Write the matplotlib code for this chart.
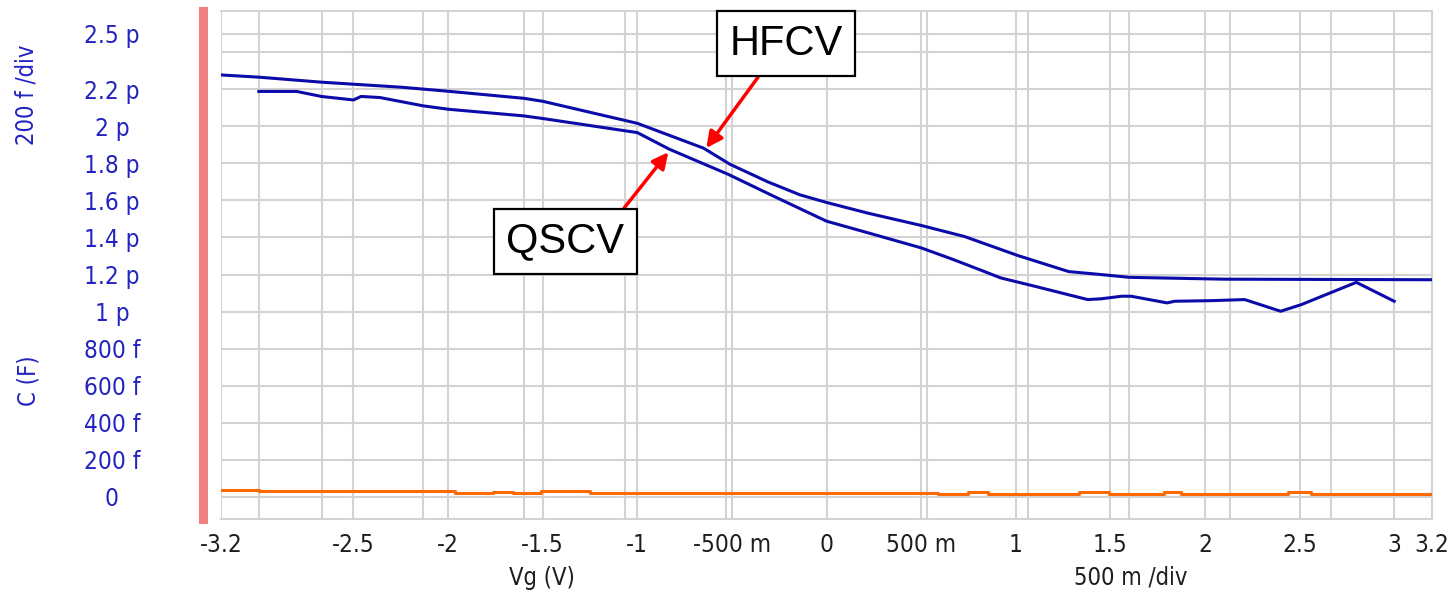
import matplotlib
matplotlib.use("Agg")
import matplotlib.pyplot as plt
from matplotlib import font_manager as fm
from matplotlib.ticker import FixedLocator

# ---- data -------------------------------------------------------------
# High-frequency C-V sweep: gate voltage (V) and capacitance (pF)
hfcv_v = [-3.2, -3.0, -2.67, -2.5, -2.25, -2.0, -1.6, -1.5, -1.0, -0.65, -0.51,
          -0.31, -0.14, 0.0, 0.22, 0.5, 0.73, 1.01, 1.28, 1.45, 1.6, 2.1, 3.2]
hfcv_c = [2.277, 2.265, 2.238, 2.227, 2.211, 2.189, 2.151, 2.135, 2.016, 1.882, 1.795,
          1.70, 1.63, 1.589, 1.531, 1.465, 1.405, 1.303, 1.216, 1.20, 1.185, 1.175, 1.172]

# Quasi-static C-V sweep: gate voltage (V) and capacitance (pF)
qscv_v = [-3.0, -2.8, -2.67, -2.5, -2.46, -2.36, -2.13, -2.0, -1.6, -1.5, -1.06, -1.0,
          -0.83, -0.52, -0.28, 0.0, 0.22, 0.5, 0.67, 0.83, 0.92, 1.10, 1.31, 1.38, 1.45,
          1.56, 1.61, 1.80, 1.84, 2.03, 2.21, 2.40, 2.51, 2.80, 3.0]
qscv_c = [2.188, 2.188, 2.161, 2.142, 2.161, 2.155, 2.110, 2.092, 2.056, 2.042, 1.975, 1.966,
          1.876, 1.741, 1.623, 1.488, 1.425, 1.344, 1.281, 1.218, 1.182, 1.137, 1.083, 1.065, 1.069,
          1.083, 1.083, 1.047, 1.056, 1.059, 1.065, 1.002, 1.038, 1.158, 1.056]

# Stepped trace near zero: gate voltage (V) and value (fF)
low_v = [-3.2, -3.0, -1.963, -1.762, -1.656, -1.508, -1.249, 0.587, 0.746, 0.852,
         1.333, 1.492, 1.783, 1.873, 2.439, 2.561, 3.2]
low_f = [39, 30, 19, 28, 19, 30, 21, 17, 25, 16, 25, 16, 25, 16, 25, 16, 16]

x_ticks = [-3.2, -2.5, -2.0, -1.5, -1.0, -0.5, 0.0, 0.5, 1.0, 1.5, 2.0, 2.5, 3.0, 3.2]
x_tick_labels = ["-3.2", "-2.5", "-2", "-1.5", "-1", "-500 m", "0", "500 m",
                 "1", "1.5", "2", "2.5", "3", "3.2"]
y_ticks = [0.0, 0.2, 0.4, 0.6, 0.8, 1.0, 1.2, 1.4, 1.6, 1.8, 2.0, 2.2, 2.5]
y_tick_labels = ["0", "200 f", "400 f", "600 f", "800 f", "1 p", "1.2 p", "1.4 p",
                 "1.6 p", "1.8 p", "2 p", "2.2 p", "2.5 p"]

# ---- fonts ------------------------------------------------------------
def narrow_face():
    for f in fm.fontManager.ttflist:
        n = f.name.lower()
        narrow = ("narrow" in n or "condensed" in n
                  or f.stretch in ("condensed", "semi-condensed"))
        if narrow and f.style == "normal" and f.weight in (400, "normal", "regular"):
            return f.fname
    return None

names = {f.name for f in fm.fontManager.ttflist}
narrow_file = narrow_face()
if narrow_file:
    tick_fp = fm.FontProperties(fname=narrow_file, size=17.5)
    title_fp = fm.FontProperties(fname=narrow_file, size=17)
else:
    tick_fp = fm.FontProperties(family="DejaVu Sans", size=15.5)
    title_fp = fm.FontProperties(family="DejaVu Sans", size=15)
box_font = "Liberation Sans" if "Liberation Sans" in names else "DejaVu Sans"

blue_txt = "#2323c2"
dark_txt = "#1e1e1e"
grid_col = "#d3d3d3"

# ---- figure -----------------------------------------------------------
W, H = 1451, 594
fig = plt.figure(figsize=(W / 100, H / 100), dpi=100)
L, R, T, B = 221, 1432, 11, 519
ax = fig.add_axes([L / W, (H - B) / H, (R - L) / W, (B - T) / H])

# frame: grey border, left axis drawn as a thick coral bar just outside
for side in ("top", "right", "bottom"):
    ax.spines[side].set_color(grid_col)
    ax.spines[side].set_linewidth(1.5)
ax.spines["left"].set_position(("outward", 13.3))
ax.spines["left"].set_color("#f08080")
ax.spines["left"].set_linewidth(6.5)

ax.set_xlim(-3.2, 3.2)
ax.set_ylim(-0.119, 2.622)

# grid: half-volt lines plus the twelve-division screen grid
ax.xaxis.set_major_locator(FixedLocator(x_ticks))
ax.set_xticklabels(x_tick_labels)
screen_div = [-3.2 + k * 6.4 / 12 for k in range(13)]
ax.xaxis.set_minor_locator(FixedLocator(screen_div + [-3.0]))
ax.yaxis.set_major_locator(FixedLocator(y_ticks))
ax.set_yticklabels(y_tick_labels)
ax.yaxis.set_minor_locator(FixedLocator([2.4]))
ax.grid(which="both", color=grid_col, lw=1.5)
ax.set_axisbelow(True)

ax.tick_params(axis="both", which="both", length=0)
ax.tick_params(axis="x", pad=10, labelcolor=dark_txt)
# labels are centred ~109 px left of the frame (spine already 13.3 pt out)
ax.tick_params(axis="y", pad=65.2, labelcolor=blue_txt)
for lab in ax.get_xticklabels() + ax.get_yticklabels():
    lab.set_fontproperties(tick_fp)
for lab in ax.get_yticklabels():
    lab.set_ha("center")

# ---- traces -----------------------------------------------------------
ax.plot(hfcv_v, hfcv_c, color="#0b0baa", lw=2.2, zorder=3)
ax.plot(qscv_v, qscv_c, color="#0b0baa", lw=2.2, zorder=3)
ax.plot(low_v, [v / 1000 for v in low_f], color="#ff6a00", lw=2.2,
        drawstyle="steps-post", zorder=3)

# ---- axis titles ------------------------------------------------------
ax.text(0.265, -0.116, "Vg (V)", transform=ax.transAxes, ha="center", va="center",
        fontproperties=title_fp, color=dark_txt)
ax.text(0.751, -0.116, "500 m /div", transform=ax.transAxes, ha="center", va="center",
        fontproperties=title_fp, color=dark_txt)
ax.text(-0.159, 0.272, "C (F)", transform=ax.transAxes, ha="center", va="center",
        rotation=90, fontproperties=title_fp, color=blue_txt)
ax.text(-0.161, 0.835, "200 f /div", transform=ax.transAxes, ha="center", va="center",
        rotation=90, fontproperties=title_fp, color=blue_txt)

# ---- callouts ---------------------------------------------------------
box = dict(boxstyle="square,pad=0.3", fc="white", ec="black", lw=1.6)
ax.annotate("HFCV", xy=(-0.635, 1.883), xytext=(-0.215, 2.444),
            ha="center", va="center", fontsize=30, family=box_font, color="black",
            bbox=box, zorder=5,
            arrowprops=dict(arrowstyle="-|>", color="#ff0000", lw=2.5,
                            mutation_scale=24, shrinkA=0, shrinkB=0,
                            relpos=(0.34, 0.0)))
ax.annotate("QSCV", xy=(-0.836, 1.86), xytext=(-1.381, 1.379),
            ha="center", va="center", fontsize=30, family=box_font, color="black",
            bbox=box, zorder=5,
            arrowprops=dict(arrowstyle="-|>", color="#ff0000", lw=2.5,
                            mutation_scale=24, shrinkA=0, shrinkB=0,
                            relpos=(0.91, 1.0)))

fig.savefig("out.png", dpi=100)
